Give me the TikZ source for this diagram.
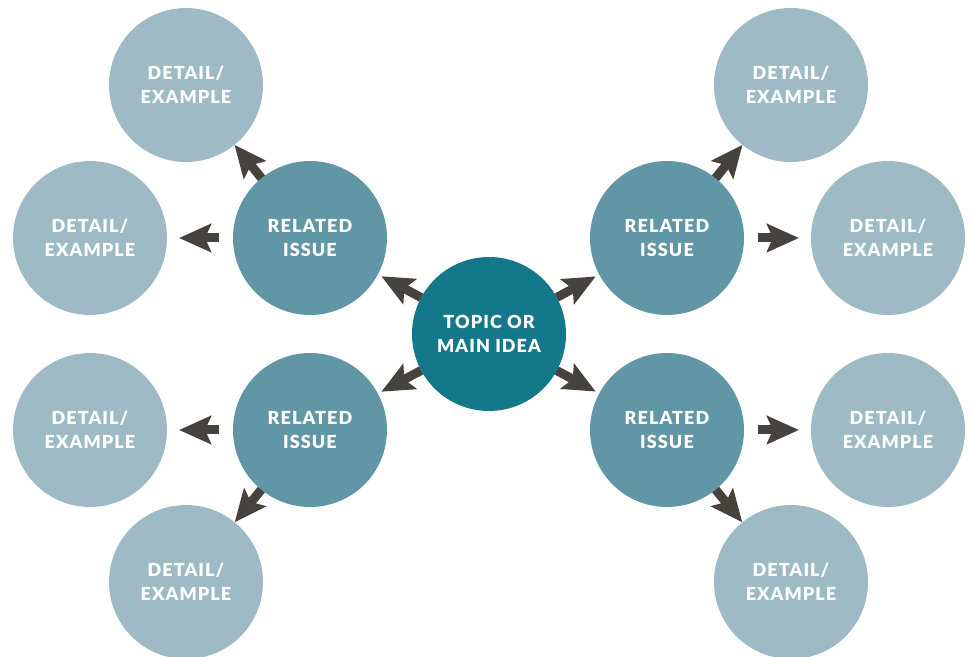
\documentclass[tikz,border=0pt]{standalone}
\usepackage{fontspec}
\setmainfont{Lato}[BoldFont={Lato Black}, BoldFeatures={LetterSpace=6}]
\usepackage{tikz}
\usetikzlibrary{arrows.meta}
\definecolor{topicteal}{HTML}{13788A}
\definecolor{issueblue}{HTML}{6196A6}
\definecolor{detailblue}{HTML}{9DBAC5}
\definecolor{arrowgrey}{HTML}{46423D}

\begin{document}
\begin{tikzpicture}[x=0.5pt, y=-0.5pt,
  bubble/.style={circle, minimum size=77pt, inner sep=0pt, outer sep=0pt, text=white, align=center,
    font=\bfseries\fontsize{9}{12}\selectfont},
  topic/.style={bubble, fill=topicteal},
  issue/.style={bubble, fill=issueblue},
  detail/.style={bubble, fill=detailblue},
  fat/.style={arrowgrey, line width=4.5pt, -{Stealth[length=16pt, width=14pt, inset=3pt]}}]
\useasboundingbox (0,0) rectangle (969,657);
\node[topic] (main) at (489,334) {TOPIC OR\\MAIN IDEA};
\node[issue] (ul) at (310,238) {RELATED\\ISSUE};
\node[issue] (ll) at (310,430) {RELATED\\ISSUE};
\node[issue] (ur) at (667,238) {RELATED\\ISSUE};
\node[issue] (lr) at (667,430) {RELATED\\ISSUE};
\node[detail] (ula) at (186,85) {DETAIL/\\EXAMPLE};
\node[detail] (ulb) at (90,238) {DETAIL/\\EXAMPLE};
\node[detail] (lla) at (90,430) {DETAIL/\\EXAMPLE};
\node[detail] (llb) at (186,582) {DETAIL/\\EXAMPLE};
\node[detail] (ura) at (791,85) {DETAIL/\\EXAMPLE};
\node[detail] (urb) at (888,238) {DETAIL/\\EXAMPLE};
\node[detail] (lra) at (888,430) {DETAIL/\\EXAMPLE};
\node[detail] (lrb) at (791,582) {DETAIL/\\EXAMPLE};
% from the main idea
\draw[fat, shorten >=2pt] (main) -- (ul);
\draw[fat, shorten >=2pt] (main) -- (ll);
\draw[fat, shorten >=2pt] (main) -- (ur);
\draw[fat, shorten >=2pt] (main) -- (lr);
% out to the details
\draw[fat] (ul) -- (ula);
\draw[fat, shorten <=7pt, shorten >=6pt] (ul) -- (ulb);
\draw[fat, shorten <=7pt, shorten >=6pt] (ll) -- (lla);
\draw[fat] (ll) -- (llb);
\draw[fat] (ur) -- (ura);
\draw[fat, shorten <=7pt, shorten >=6pt] (ur) -- (urb);
\draw[fat, shorten <=7pt, shorten >=6pt] (lr) -- (lra);
\draw[fat] (lr) -- (lrb);
\end{tikzpicture}
\end{document}
